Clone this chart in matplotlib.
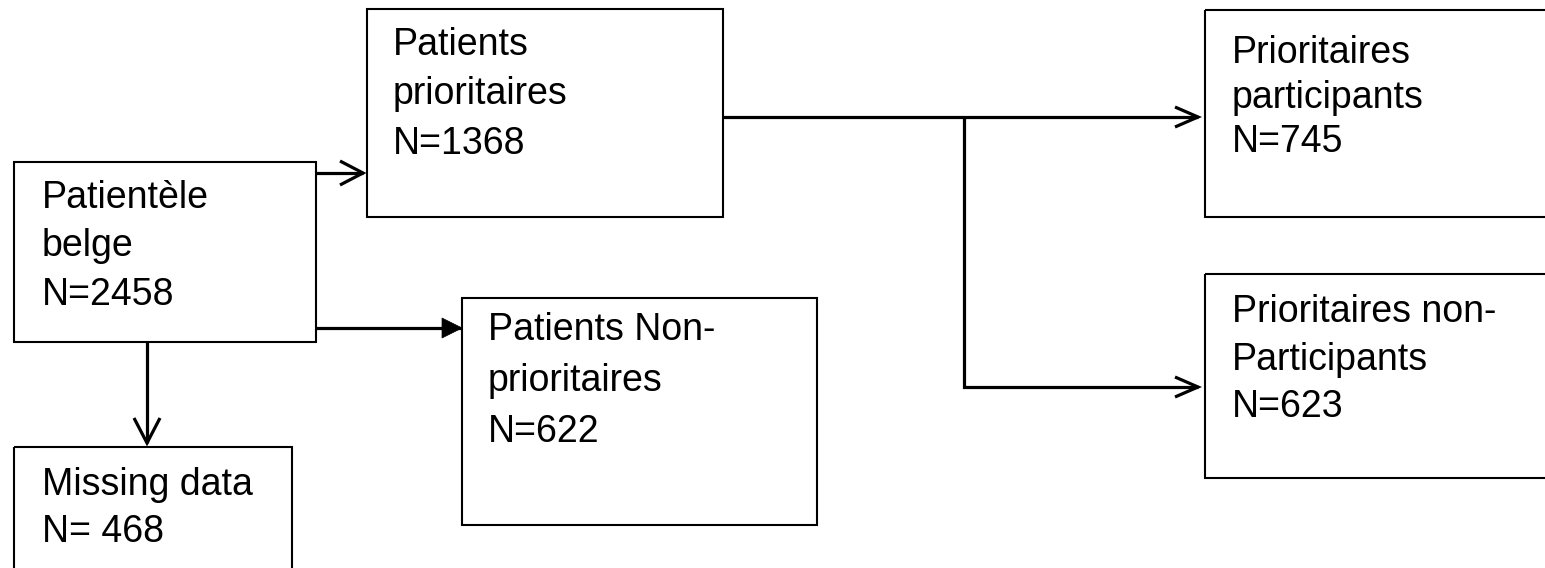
import matplotlib.pyplot as plt
from matplotlib.patches import Rectangle, Polygon
import numpy as np

# ---------------------------------------------------------------------
# Flow chart data: box labels and counts
# ---------------------------------------------------------------------
box_ids = ["belge", "prio", "nonprio", "missing", "part", "nonpart"]
box_labels = [
    ["Patientèle", "belge"],
    ["Patients", "prioritaires"],
    ["Patients Non-", "prioritaires"],
    ["Missing data"],
    ["Prioritaires", "participants"],
    ["Prioritaires non-", "Participants"],
]
box_counts = [2458, 1368, 622, 468, 745, 623]
count_sep = ["=", "=", "=", "= ", "=", "="]

# layout (pixel space): x0, y0, x1, y1, text x, first baseline, line step
layout = {
    "belge":   (14, 162, 316, 342, 42, 208, 48.5),
    "prio":    (367, 9, 723, 217, 393, 55, 49.5),
    "nonprio": (462, 298, 817, 525, 488, 340, 51),
    "missing": (14, 447, 292, 640, 42, 495, 47),
    "part":    (1205, 10, 1580, 217, 1232, 63, 44.5),
    "nonpart": (1205, 274, 1580, 478, 1232, 322, 47.5),
}

FONT = "Liberation Sans"
LINE_W = 2.3
BOX_W = 1.5


def draw_box(ax, key, lines):
    x0, y0, x1, y1, tx, base, step = layout[key]
    ax.add_patch(Rectangle((x0, y0), x1 - x0, y1 - y0, fill=False,
                           edgecolor="black", linewidth=BOX_W))
    for i, line in enumerate(lines):
        ax.text(tx, base + i * step, line, fontsize=27, family=FONT,
                ha="left", va="baseline", color="black")


def arrow(ax, pts, head="open", hl=23, hw=12):
    pts = np.asarray(pts, dtype=float)
    ax.plot(pts[:, 0], pts[:, 1], color="black", lw=LINE_W,
            solid_capstyle="butt", solid_joinstyle="miter")
    tip = pts[-1]
    d = tip - pts[-2]
    d = d / np.hypot(*d)
    perp = np.array([-d[1], d[0]])
    a = tip - d * hl + perp * hw
    b = tip - d * hl - perp * hw
    if head == "open":
        ax.plot([a[0], tip[0], b[0]], [a[1], tip[1], b[1]], color="black",
                lw=LINE_W, solid_joinstyle="miter", solid_capstyle="butt")
    else:
        ax.add_patch(Polygon([a, tip, b], closed=True, facecolor="black",
                             edgecolor="black", lw=0.5))


fig = plt.figure(figsize=(15.45, 5.68), dpi=100)
ax = fig.add_axes([0, 0, 1, 1])
ax.set_xlim(0, 1545)
ax.set_ylim(568, 0)
ax.axis("off")

for key, lines, n, sep in zip(box_ids, box_labels, box_counts, count_sep):
    draw_box(ax, key, lines + [f"N{sep}{n}"])

A = layout["belge"]
B = layout["prio"]
C = layout["nonprio"]
D = layout["missing"]
E = layout["part"]
F = layout["nonpart"]

# belge -> prioritaires
arrow(ax, [(A[2], 173), (B[0] - 4, 173)], hl=23, hw=12)
# belge -> non-prioritaires (filled head)
arrow(ax, [(A[2], 328), (C[0], 328)], head="filled", hl=20, hw=10)
# belge -> missing
arrow(ax, [(147, A[3]), (147, D[1] - 4)], hl=25, hw=13)
# prioritaires -> participants / non-participants
split_x = 964
arrow(ax, [(B[2], 117), (E[0] - 7, 117)], hl=23, hw=10)
arrow(ax, [(split_x, 117), (split_x, 387), (F[0] - 7, 387)], hl=23, hw=10)

fig.savefig("out.png", dpi=100)
